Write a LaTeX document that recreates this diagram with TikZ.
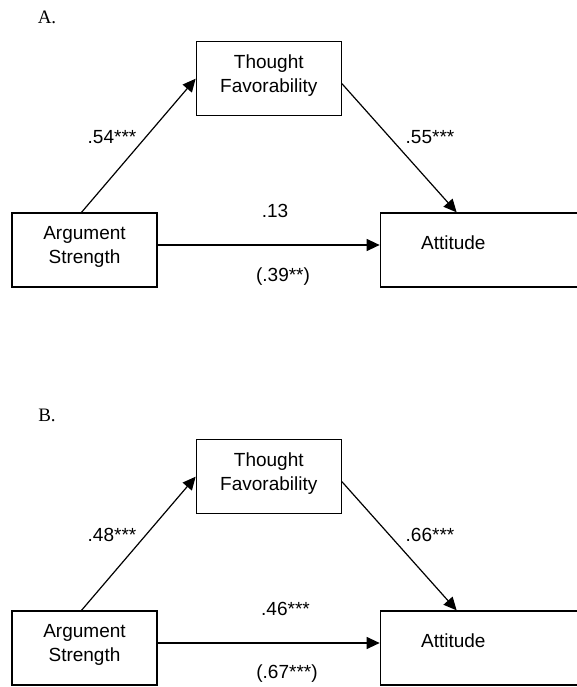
\documentclass[tikz,border=0pt]{standalone}
\usepackage{fontspec}
\setmainfont{Liberation Sans}
\newfontfamily\panelfont{Liberation Serif}
\usetikzlibrary{arrows.meta,positioning}

\begin{document}
\begin{tikzpicture}[x=1pt,y=-1pt,font=\fontsize{19}{24}\selectfont,
box/.style={draw,line width=1.3pt,minimum width=145pt,minimum height=74pt,align=center,inner sep=0pt,text depth=10pt},
attbox/.style={draw,line width=1.3pt,minimum width=220pt,minimum height=74pt,inner sep=0pt},
coef/.style={inner sep=0pt},
panel/.style={font=\panelfont\fontsize{19}{24}\selectfont,inner sep=0pt},
arr/.style={-{Triangle[length=13pt,width=12pt]},line width=1.2pt}]
\clip (0,0) rectangle (577,687);
% panel A
\node[panel] (labA) at (47,17) {A.};
\node[box] (argA) at (84.5,250) {Argument\\Strength};
\node[box,above right=96pt and 38pt of argA] (thoughtA) {Thought\\Favorability};
\node[attbox,right=222pt of argA,label={[name=attAtxt,xshift=-37pt,yshift=7pt]center:Attitude}] (attA) {};
\draw[arr] ([xshift=-3pt]argA.north)--(thoughtA.west);
\draw[arr] ([yshift=-5pt]thoughtA.east)--([xshift=77pt]attA.north west);
\draw[arr] ([yshift=5pt]argA.east)--([yshift=5pt]attA.west);
\node[coef] (athA) at (112,137) {.54***};
\node[coef] (thattA) at (430,137) {.55***};
\node[coef] (directA) at (275,211) {.13};
\node[coef] (totalA) at (283,277) {(.39**)};
% panel B
\node[panel] (labB) at (47,415) {B.};
\node[box] (argB) at (84.5,648) {Argument\\Strength};
\node[box,above right=96pt and 38pt of argB] (thoughtB) {Thought\\Favorability};
\node[attbox,right=222pt of argB,label={[name=attBtxt,xshift=-37pt,yshift=7pt]center:Attitude}] (attB) {};
\draw[arr] ([xshift=-3pt]argB.north)--(thoughtB.west);
\draw[arr] ([yshift=-5pt]thoughtB.east)--([xshift=77pt]attB.north west);
\draw[arr] ([yshift=5pt]argB.east)--([yshift=5pt]attB.west);
\node[coef] (athB) at (112,535) {.48***};
\node[coef] (thattB) at (430,535) {.66***};
\node[coef] (directB) at (285.5,609) {.46***};
\node[coef] (totalB) at (287,674) {(.67***)};
\end{tikzpicture}
\end{document}
